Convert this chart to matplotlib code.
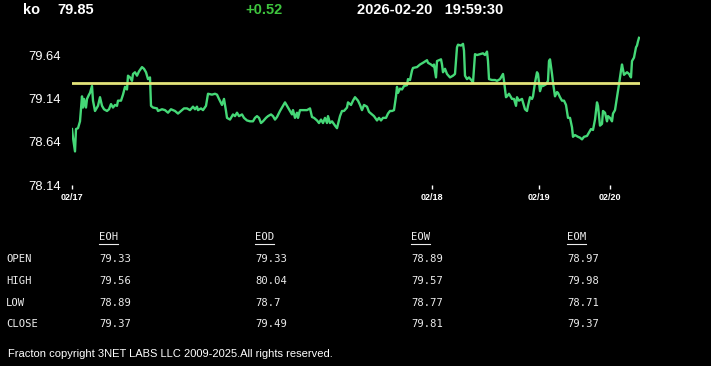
import matplotlib
matplotlib.use("Agg")
import matplotlib.pyplot as plt
from matplotlib.lines import Line2D

# ── Quote header ─────────────────────────────────────────────
symbol = "ko"
last_price = "79.85"
change = "+0.52"
stamp = "2026-02-20   19:59:30"

# ── Intraday series (bar index, price) ───────────────────────
bar = [0, 1, 3, 4, 6, 8, 10, 11, 12, 14, 15, 17, 18, 20, 21, 23, 26, 28, 30, 32,
       35, 37, 39, 41, 43, 45, 46, 49, 51, 53, 55, 56, 58, 60, 61, 63, 65, 67, 70, 72,
       74, 76, 78, 79, 81, 85, 86, 90, 93, 96, 99, 103, 106, 110, 112, 115, 118, 121, 123, 125,
       126, 129, 131, 134, 136, 140, 143, 145, 147, 150, 152, 154, 155, 158, 161, 163, 165, 167, 170, 172,
       175, 178, 181, 183, 185, 187, 189, 191, 194, 196, 199, 201, 203, 205, 208, 211, 213, 215, 218, 220,
       221, 223, 225, 226, 228, 231, 235, 238, 240, 242, 245, 247, 249, 251, 253, 255, 256, 258, 260, 263,
       265, 268, 270, 272, 275, 276, 279, 281, 283, 286, 288, 290, 292, 295, 297, 300, 302, 305, 307, 309,
       311, 314, 316, 318, 320, 322, 324, 325, 326, 328, 330, 332, 335, 336, 338, 340, 341, 345, 348, 351,
       355, 356, 359, 361, 362, 364, 365, 367, 369, 370, 371, 373, 375, 378, 381, 383, 385, 386, 389, 391,
       392, 393, 395, 397, 400, 401, 403, 405, 408, 411, 413, 415, 416, 417, 420, 423, 425, 428, 431, 432,
       434, 435, 437, 440, 442, 444, 445, 447, 450, 451, 453, 455, 456, 458, 460, 461, 463, 465, 466, 468,
       470, 471, 474, 476, 477, 478, 480, 481, 483, 485, 486, 488, 490, 492, 494, 496, 498, 500, 501, 503,
       506, 508, 510, 512, 515, 517, 519, 521, 523, 525, 526, 528, 530, 531, 533, 535, 536, 538, 540, 541,
       543, 545, 547, 549, 550, 552, 555, 557, 559, 560, 562, 564, 565, 566, 567]
price = [78.79, 78.69, 78.53, 78.79, 78.80, 78.88, 79.17, 79.04, 79.14, 79.04, 79.14, 79.19, 79.21, 79.29, 79.12, 79.00, 79.06, 79.16, 79.06, 79.02,
         79.00, 79.02, 79.08, 79.04, 79.07, 79.06, 79.12, 79.12, 79.19, 79.28, 79.25, 79.41, 79.39, 79.35, 79.43, 79.45, 79.41, 79.46, 79.51, 79.49,
         79.45, 79.37, 79.39, 79.06, 79.04, 79.03, 79.00, 79.02, 79.01, 78.98, 79.02, 79.00, 78.97, 79.01, 79.03, 79.03, 79.01, 79.05, 79.02, 79.05,
         79.01, 79.03, 79.01, 79.06, 79.20, 79.19, 79.20, 79.19, 79.14, 79.07, 79.14, 79.00, 78.92, 78.90, 78.96, 78.94, 78.98, 78.94, 78.96, 78.92,
         78.89, 78.88, 78.88, 78.92, 78.94, 78.92, 78.86, 78.88, 78.92, 78.94, 78.96, 78.94, 78.90, 78.93, 79.00, 79.06, 79.10, 79.06, 79.00, 78.96,
         79.01, 78.92, 78.98, 78.92, 79.01, 79.01, 79.01, 79.03, 78.93, 78.92, 78.89, 78.86, 78.90, 78.86, 78.92, 78.86, 78.94, 78.86, 78.88, 78.83,
         78.80, 78.94, 79.00, 79.00, 79.04, 79.10, 79.07, 79.12, 79.16, 79.12, 79.07, 79.01, 79.07, 79.05, 78.99, 78.96, 78.94, 78.89, 78.92, 78.89,
         78.92, 78.92, 78.97, 79.00, 79.00, 79.01, 79.17, 79.28, 79.21, 79.26, 79.25, 79.29, 79.30, 79.37, 79.36, 79.47, 79.50, 79.51, 79.54, 79.56,
         79.59, 79.56, 79.54, 79.52, 79.54, 79.39, 79.58, 79.59, 79.60, 79.54, 79.45, 79.49, 79.43, 79.39, 79.41, 79.43, 79.74, 79.77, 79.76, 79.78,
         79.70, 79.41, 79.37, 79.39, 79.35, 79.33, 79.66, 79.65, 79.66, 79.67, 79.65, 79.69, 79.58, 79.37, 79.36, 79.36, 79.35, 79.37, 79.43, 79.35,
         79.16, 79.17, 79.20, 79.14, 79.14, 79.06, 79.16, 79.12, 79.14, 79.10, 79.02, 79.00, 79.06, 79.16, 79.14, 79.17, 79.33, 79.45, 79.43, 79.23,
         79.31, 79.29, 79.31, 79.35, 79.58, 79.60, 79.43, 79.33, 79.17, 79.22, 79.21, 79.16, 79.12, 79.12, 79.07, 78.92, 78.92, 78.81, 78.70, 78.72,
         78.70, 78.69, 78.67, 78.70, 78.71, 78.75, 78.79, 78.78, 78.90, 79.10, 79.06, 78.83, 78.85, 79.00, 78.98, 78.88, 78.94, 78.92, 78.88, 78.97,
         79.01, 79.16, 79.31, 79.47, 79.54, 79.42, 79.45, 79.43, 79.39, 79.58, 79.62, 79.74, 79.76, 79.81, 79.85]
open_level = 79.33

day_bars = [0, 360, 467, 538]
day_labels = ["02/17", "02/18", "02/19", "02/20"]
y_ticks = [78.14, 78.64, 79.14, 79.64]

# ── OHLC summary table ───────────────────────────────────────
periods = ["EOH", "EOD", "EOW", "EOM"]
row_names = ["OPEN", "HIGH", "LOW", "CLOSE"]
eoh = ["79.33", "79.56", "78.89", "79.37"]
eod = ["79.33", "80.04", "78.7", "79.49"]
eow = ["78.89", "79.57", "78.77", "79.81"]
eom = ["78.97", "79.98", "78.71", "79.37"]

W, H = 711, 366
fig = plt.figure(figsize=(W / 100, H / 100), dpi=100)
fig.patch.set_facecolor("black")

# axes spans px x 72..640, y 12..185
ax = fig.add_axes([72 / W, 1 - 185 / H, (640 - 72) / W, (185 - 12) / H])
ax.set_facecolor("black")
ax.plot(bar, price, color="#45d877", lw=1.7, solid_joinstyle="round")
ax.axhline(open_level, color="#e4e47a", lw=2.0)
ax.set_xlim(0, 568)
ax.set_ylim(78.14, 80.15)
for s in ax.spines.values():
    s.set_visible(False)
ax.set_yticks(y_ticks)
ax.set_yticklabels([f"{v:.2f}" for v in y_ticks], fontsize=9.4, color="white",
                   family="Liberation Sans")
ax.tick_params(axis="y", length=0, pad=8)
ax.set_xticks(day_bars)
ax.set_xticklabels(day_labels, fontsize=6.5, color="white", fontweight="bold",
                   family="Liberation Sans")
ax.tick_params(axis="x", length=3, width=1, color="white", direction="out", pad=3)

# header
hdr = dict(color="white", fontsize=10.5, fontweight="bold", family="Liberation Sans",
           va="center", ha="left")
fig.text(23 / W, 1 - 10 / H, symbol, **hdr)
fig.text(57 / W, 1 - 10 / H, last_price, **hdr)
fig.text(245 / W, 1 - 10 / H, change, **{**hdr, "color": "#3ec43e"})
fig.text(357 / W, 1 - 10 / H, stamp, **hdr)

# table
mono = dict(color="#ececec", fontsize=7.6, family="DejaVu Sans Mono", va="center", ha="left")
col_x = [99, 255, 411, 567]
row_y = [259, 281, 303, 324]
cols = [eoh, eod, eow, eom]
fig.canvas.draw()
renderer = fig.canvas.get_renderer()
for cx, name, vals in zip(col_x, periods, cols):
    t = fig.text(cx / W, 1 - 237 / H, name, **mono)
    bb = t.get_window_extent(renderer)
    fig.add_artist(Line2D([bb.x0 / W, bb.x1 / W], [(bb.y0 - 1.5) / H] * 2,
                          color="#ececec", lw=0.8))
    for ry, v in zip(row_y, vals):
        fig.text(cx / W, 1 - ry / H, v, **mono)
for ry, name in zip(row_y, row_names):
    fig.text(6 / W, 1 - ry / H, name, **mono)

fig.text(8 / W, 1 - 354 / H,
         "Fracton copyright 3NET LABS LLC 2009-2025.All rights reserved.",
         color="white", fontsize=8.0, family="Liberation Sans", va="center", ha="left")

fig.savefig("out.png", dpi=100, facecolor="black")
